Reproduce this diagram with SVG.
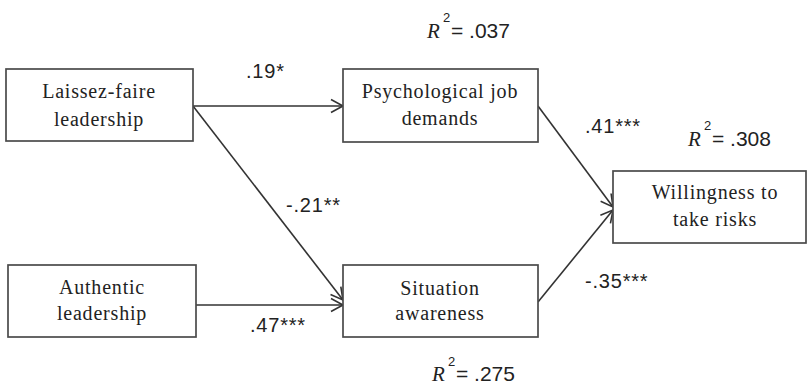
<svg xmlns="http://www.w3.org/2000/svg" width="807" height="388" viewBox="0 0 807 388">
<style>
.box{fill:#fff;stroke:#4a4a4a;stroke-width:1.7}
.nt{font-family:"Liberation Serif",serif;font-size:20px;letter-spacing:0.8px;fill:#222;text-anchor:middle}
.lb{font-family:"Liberation Sans",sans-serif;font-size:20px;letter-spacing:0.8px;fill:#222}
.edge{stroke:#333;stroke-width:1.6;fill:none;marker-end:url(#ah)}
.ri{font-family:"Liberation Serif",serif;font-style:italic;font-size:21px;fill:#222}
.rs{font-family:"Liberation Sans",sans-serif;font-size:13px;fill:#222}
.rv{font-family:"Liberation Sans",sans-serif;font-size:21px;fill:#222}
</style>
<defs>
<marker id="ah" markerUnits="userSpaceOnUse" markerWidth="16" markerHeight="16" refX="14" refY="8" orient="auto">
<path d="M2,1.5 L14,8 L2,14.5" fill="none" stroke="#333" stroke-width="1.6"/>
</marker>
</defs>
<rect width="807" height="388" fill="#fff"/>
<g id="connectors">
<line class="edge" x1="193" y1="106" x2="343" y2="106"/>
<line class="edge" x1="193" y1="106" x2="343" y2="300"/>
<line class="edge" x1="196" y1="305" x2="343" y2="305"/>
<line class="edge" x1="538" y1="106" x2="613" y2="207"/>
<line class="edge" x1="538" y1="302" x2="613" y2="210"/>
<text class="lb" x="246" y="78">.19*</text>
<text class="lb" x="286" y="212">-.21**</text>
<text class="lb" x="250" y="332">.47***</text>
<text class="lb" x="585" y="133">.41***</text>
<text class="lb" x="585" y="288">-.35***</text>
</g>
<g id="laissez">
<rect class="box" x="6" y="69" width="187" height="72"/>
<text class="nt" x="99" y="98">Laissez-faire</text>
<text class="nt" x="99" y="126">leadership</text>
</g>
<g id="authentic">
<rect class="box" x="8" y="265" width="188" height="72"/>
<text class="nt" x="102" y="294">Authentic</text>
<text class="nt" x="102" y="320">leadership</text>
</g>
<g id="psych">
<rect class="box" x="343" y="69" width="195" height="73"/>
<text class="nt" x="440" y="98">Psychological job</text>
<text class="nt" x="440" y="125">demands</text>
<text x="427" y="38"><tspan class="ri">R</tspan><tspan class="rs" x="443" y="22">2</tspan><tspan class="rv" x="451" y="38">= .037</tspan></text>
</g>
<g id="situation">
<rect class="box" x="343" y="265" width="195" height="72"/>
<text class="nt" x="440" y="295">Situation</text>
<text class="nt" x="440" y="320">awareness</text>
<text x="432" y="381"><tspan class="ri">R</tspan><tspan class="rs" x="448" y="366">2</tspan><tspan class="rv" x="456" y="381">= .275</tspan></text>
</g>
<g id="willingness">
<rect class="box" x="613" y="171" width="193" height="72"/>
<text class="nt" x="715" y="199">Willingness to</text>
<text class="nt" x="715" y="226">take risks</text>
<text x="688" y="146"><tspan class="ri">R</tspan><tspan class="rs" x="704" y="130">2</tspan><tspan class="rv" x="712" y="146">= .308</tspan></text>
</g>
</svg>
